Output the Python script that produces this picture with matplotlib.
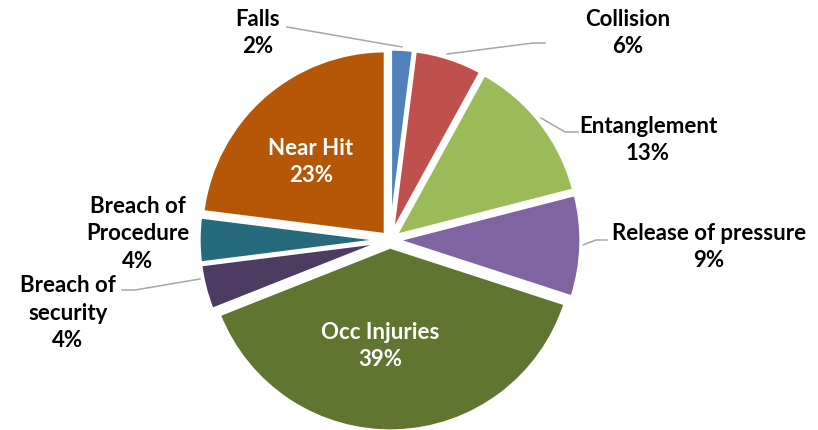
import matplotlib.pyplot as plt

# data
labels = ['Falls', 'Collision', 'Entanglement', 'Release of pressure',
          'Occ Injuries', 'Breach of security', 'Breach of Procedure', 'Near Hit']
values = [2, 6, 13, 9, 39, 4, 4, 23]
colors = ['#4F81BD', '#C0504D', '#9BBB59', '#8064A2',
          '#5F7530', '#4D3B62', '#276A7C', '#B65708']

H = 430
def yy(y):
    # image y (top down) -> axes y (bottom up)
    return H - y

fig = plt.figure(figsize=(8.18, 4.3), dpi=100)
ax = fig.add_axes([0, 0, 1, 1])

cx, cy, r = 390, 240, 184
# explode is in data units here (pixels)
ax.pie(values, colors=colors, startangle=90, counterclock=False,
       center=(cx, yy(cy)), radius=r, explode=[7] * len(values),
       wedgeprops=dict(edgecolor='white', linewidth=2.4), frame=True)
ax.set_xlim(0, 818)
ax.set_ylim(0, H)
ax.set_aspect('equal')
ax.axis('off')

font = dict(family=['Lato', 'DejaVu Sans'], fontweight='bold', fontsize=16,
            ha='center', va='center', linespacing=1.38)

# outside labels: (text, x, y of text centre)
outside = [
    ('Falls\n2%', 258, 33),
    ('Collision\n6%', 628, 33),
    ('Entanglement\n13%', 648, 140),
    ('Release of pressure\n9%', 709, 247),
    ('Breach of\nProcedure\n4%', 138, 234),
    ('Breach of\nsecurity\n4%', 68, 313),
]
for t, x, y in outside:
    ax.text(x, yy(y), t, color='black', **font)

inside = [('Near Hit\n23%', 311, 162), ('Occ Injuries\n39%', 380, 346)]
for t, x, y in inside:
    ax.text(x, yy(y), t, color='white', **font)

# leader lines
leaders = [
    [(287, 27), (402, 47)],
    [(545, 43), (533, 43), (447, 54)],
    [(578, 132), (565, 132), (541, 118)],
    [(607, 240), (596, 240), (583, 245)],
    [(122, 290), (135, 290), (200, 279)],
]
for pts in leaders:
    ax.plot([p[0] for p in pts], [yy(p[1]) for p in pts],
            color='#A6A6A6', linewidth=1.1, zorder=0.5)

fig.savefig('out.png', dpi=100)
